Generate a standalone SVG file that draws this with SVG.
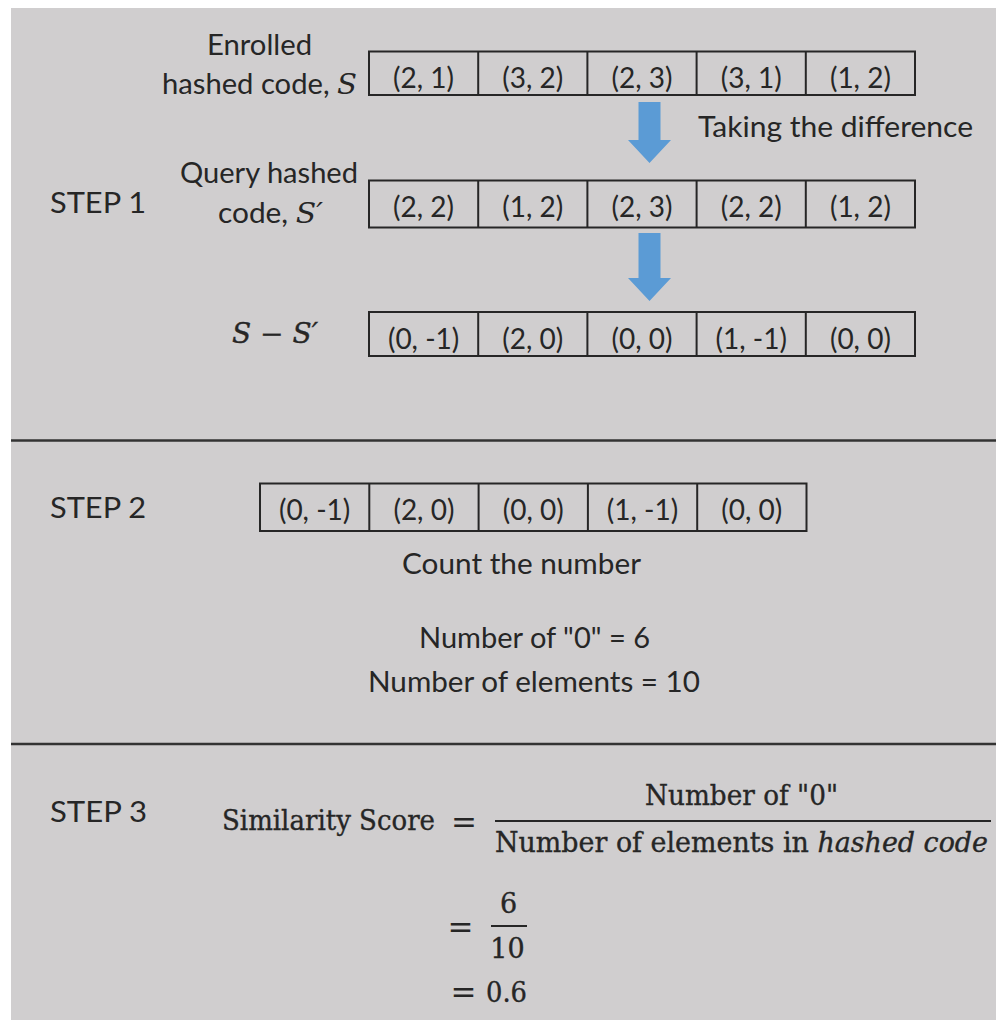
<svg xmlns="http://www.w3.org/2000/svg" width="996" height="1020" viewBox="0 0 996 1020">
  <style>
    .bg { fill: #d0cecf; }
    .rule { stroke: #333333; stroke-width: 2.5; fill: none; }
    .cell { fill: none; stroke: #262626; stroke-width: 2; }
    .lbl { font-family: Lato, "Liberation Sans", sans-serif; font-size: 28px; fill: #262626; }
    .val { font-family: Lato, "Liberation Sans", sans-serif; font-size: 28px; fill: #262626; text-anchor: middle; }
    .step { font-family: Lato, "Liberation Sans", sans-serif; font-size: 29px; fill: #262626; }
    .math { font-family: "DejaVu Serif", "Liberation Serif", serif; font-size: 27px; fill: #262626; stroke: #262626; stroke-width: 0.35; }
    .eq { font-family: "DejaVu Serif", "Liberation Serif", serif; font-size: 31px; fill: #262626; text-anchor: middle; }
    .it { font-family: "DejaVu Serif", "Liberation Serif", serif; font-style: italic; }
    .mid { text-anchor: middle; }
    .arrow { fill: #5b9bd5; }
    .bar { stroke: #262626; stroke-width: 2; }
  </style>

  <!-- canvas -->
  <rect x="0" y="0" width="996" height="1020" fill="#ffffff"/>
  <rect class="bg" x="11" y="8" width="985" height="1012"/>

  <!-- section dividers -->
  <g id="dividers">
    <line class="rule" x1="11" y1="440.5" x2="996" y2="440.5"/>
    <line class="rule" x1="11" y1="744" x2="996" y2="744"/>
  </g>

  <!-- step titles -->
  <g id="step-titles">
    <text class="step" x="50" y="213" textLength="96" lengthAdjust="spacingAndGlyphs">STEP 1</text>
    <text class="step" x="50" y="518" textLength="96" lengthAdjust="spacingAndGlyphs">STEP 2</text>
    <text class="step" x="50" y="822" textLength="97" lengthAdjust="spacingAndGlyphs">STEP 3</text>
  </g>

  <!-- row labels -->
  <g id="labels">
    <text class="lbl mid" x="259.5" y="55" textLength="105" lengthAdjust="spacingAndGlyphs">Enrolled</text>
    <text class="lbl" x="162" y="94" textLength="195" lengthAdjust="spacingAndGlyphs">hashed code, <tspan class="it">S</tspan></text>
    <text class="lbl" x="180" y="183" textLength="178" lengthAdjust="spacingAndGlyphs">Query hashed</text>
    <text class="lbl" x="218" y="223" textLength="105" lengthAdjust="spacingAndGlyphs">code, <tspan class="it">S′</tspan></text>
    <text class="math it" x="232" y="343" textLength="86" lengthAdjust="spacingAndGlyphs">S − S′</text>
    <text class="lbl" x="698" y="137" textLength="275" lengthAdjust="spacingAndGlyphs">Taking the difference</text>
  </g>

  <!-- enrolled code S -->
  <g id="row-enrolled">
    <rect class="cell" x="369" y="51.5" width="546" height="43.5"/>
    <line class="cell" x1="478.2" y1="51.5" x2="478.2" y2="95"/>
    <line class="cell" x1="587.4" y1="51.5" x2="587.4" y2="95"/>
    <line class="cell" x1="696.6" y1="51.5" x2="696.6" y2="95"/>
    <line class="cell" x1="805.8" y1="51.5" x2="805.8" y2="95"/>
    <text class="val" x="423.6" y="88">(2, 1)</text>
    <text class="val" x="532.8" y="88">(3, 2)</text>
    <text class="val" x="642" y="88">(2, 3)</text>
    <text class="val" x="751.2" y="88">(3, 1)</text>
    <text class="val" x="860.4" y="88">(1, 2)</text>
  </g>

  <!-- query code S' -->
  <g id="row-query">
    <rect class="cell" x="369" y="180.5" width="546" height="47"/>
    <line class="cell" x1="478.2" y1="180.5" x2="478.2" y2="227.5"/>
    <line class="cell" x1="587.4" y1="180.5" x2="587.4" y2="227.5"/>
    <line class="cell" x1="696.6" y1="180.5" x2="696.6" y2="227.5"/>
    <line class="cell" x1="805.8" y1="180.5" x2="805.8" y2="227.5"/>
    <text class="val" x="423.6" y="217">(2, 2)</text>
    <text class="val" x="532.8" y="217">(1, 2)</text>
    <text class="val" x="642" y="217">(2, 3)</text>
    <text class="val" x="751.2" y="217">(2, 2)</text>
    <text class="val" x="860.4" y="217">(1, 2)</text>
  </g>

  <!-- difference S - S' -->
  <g id="row-difference">
    <rect class="cell" x="369" y="312" width="546" height="44"/>
    <line class="cell" x1="478.2" y1="312" x2="478.2" y2="356"/>
    <line class="cell" x1="587.4" y1="312" x2="587.4" y2="356"/>
    <line class="cell" x1="696.6" y1="312" x2="696.6" y2="356"/>
    <line class="cell" x1="805.8" y1="312" x2="805.8" y2="356"/>
    <text class="val" x="423.6" y="349">(0, -1)</text>
    <text class="val" x="532.8" y="349">(2, 0)</text>
    <text class="val" x="642" y="349">(0, 0)</text>
    <text class="val" x="751.2" y="349">(1, -1)</text>
    <text class="val" x="860.4" y="349">(0, 0)</text>
  </g>

  <!-- step 2: counting -->
  <g id="row-count">
    <rect class="cell" x="260" y="483.5" width="546.5" height="47.5"/>
    <line class="cell" x1="369.3" y1="483.5" x2="369.3" y2="531"/>
    <line class="cell" x1="478.6" y1="483.5" x2="478.6" y2="531"/>
    <line class="cell" x1="587.9" y1="483.5" x2="587.9" y2="531"/>
    <line class="cell" x1="697.2" y1="483.5" x2="697.2" y2="531"/>
    <text class="val" x="314.6" y="520">(0, -1)</text>
    <text class="val" x="423.9" y="520">(2, 0)</text>
    <text class="val" x="533.2" y="520">(0, 0)</text>
    <text class="val" x="642.5" y="520">(1, -1)</text>
    <text class="val" x="751.8" y="520">(0, 0)</text>
  </g>

  <g id="count-notes">
    <text class="lbl" x="402" y="574" textLength="239" lengthAdjust="spacingAndGlyphs">Count the number</text>
    <text class="lbl" x="419" y="648" textLength="231" lengthAdjust="spacingAndGlyphs">Number of "0" = 6</text>
    <text class="lbl" x="368" y="692" textLength="332" lengthAdjust="spacingAndGlyphs">Number of elements = 10</text>
  </g>

  <!-- step 3: similarity score -->
  <g id="score">
    <text class="math" x="222" y="830" textLength="213" lengthAdjust="spacingAndGlyphs">Similarity Score</text>
    <text class="eq" x="464" y="833">=</text>
    <text class="math mid" x="741.5" y="805" textLength="193" lengthAdjust="spacingAndGlyphs">Number of "0"</text>
    <line class="bar" x1="495" y1="821" x2="991" y2="821"/>
    <text class="math" x="495" y="852" textLength="493" lengthAdjust="spacingAndGlyphs">Number of elements in <tspan class="it">hashed code</tspan></text>

    <text class="eq" x="460.5" y="938">=</text>
    <text class="math mid" x="508.5" y="913">6</text>
    <line class="bar" x1="491" y1="926" x2="527" y2="926"/>
    <text class="math mid" x="507.5" y="958">10</text>

    <text class="eq" x="463.5" y="1003">=</text>
    <text class="math" x="486" y="1002" textLength="41" lengthAdjust="spacingAndGlyphs">0.6</text>
  </g>

  <!-- block arrows -->
  <g id="connectors">
    <path class="arrow" d="M638.5,102 H660.5 V140 H671 L649.5,163 L628,140 H638.5 Z"/>
    <path class="arrow" d="M638.5,233 H660.5 V278 H671 L649.5,301 L628,278 H638.5 Z"/>
  </g>
</svg>
